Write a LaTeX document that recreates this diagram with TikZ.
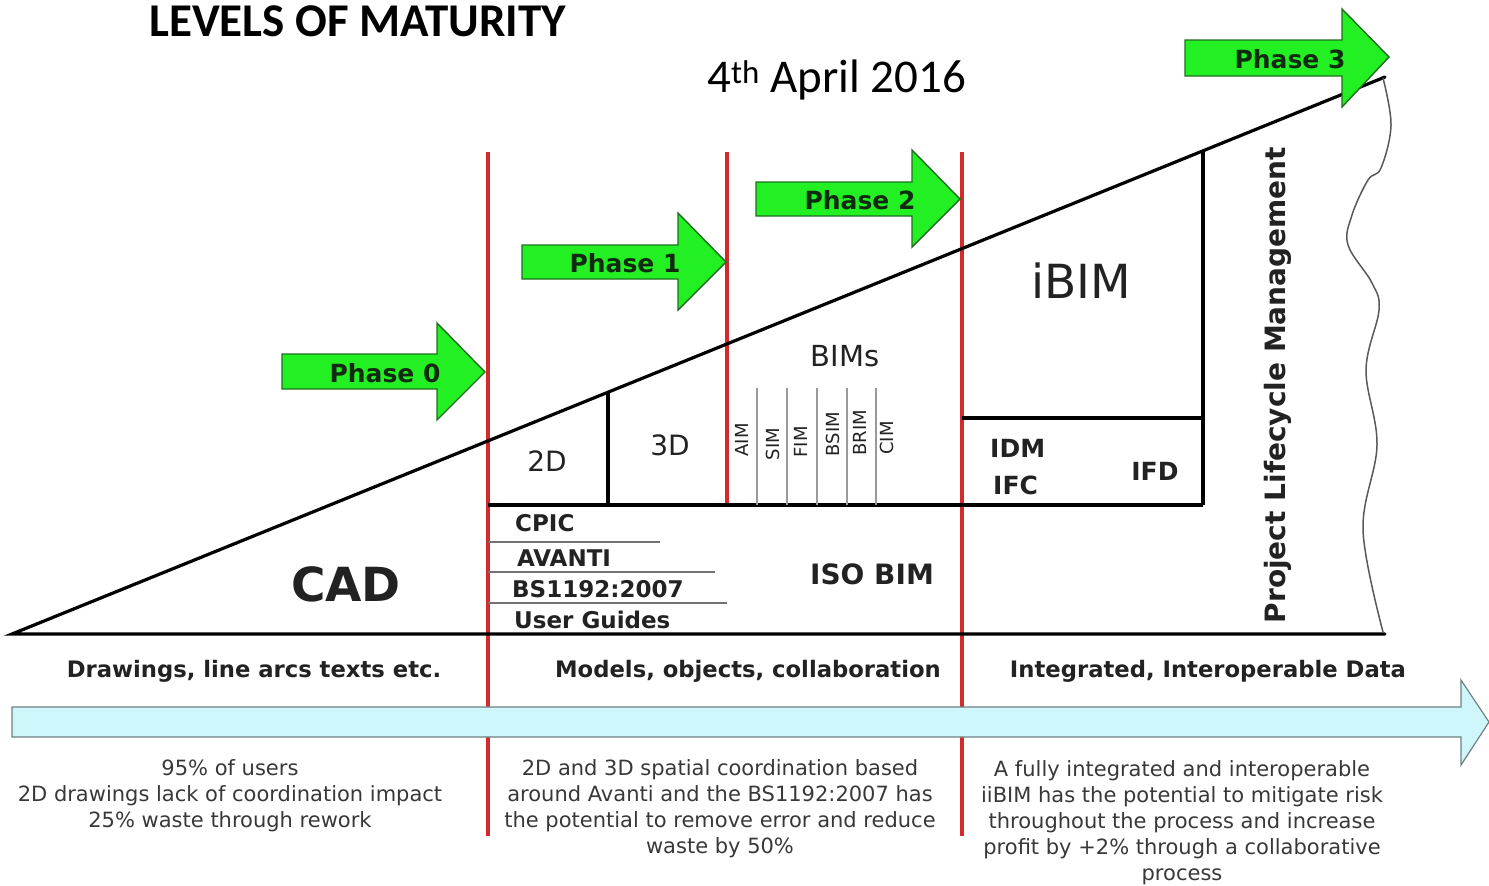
\documentclass[tikz,border=0pt]{standalone}
\usepackage{fontspec}
\setmainfont{DejaVu Sans}
\newfontfamily\calfont{Carlito}
\definecolor{redc}{HTML}{D42A2A}
\definecolor{phgreen}{HTML}{22F022}
\definecolor{phdark}{HTML}{1E6E1E}
\definecolor{phtext}{HTML}{0F2A0F}
\definecolor{barfill}{HTML}{CFF6FB}
\definecolor{bardraw}{HTML}{6F8080}
\definecolor{txt}{HTML}{222222}
\begin{document}
\begin{tikzpicture}[x=1pt,y=-1pt,
  redl/.style={draw=redc, line width=3.2pt},
  blk/.style={draw=black, line width=3.2pt},
  thinl/.style={draw=gray!80, line width=1.4pt},
  gline/.style={draw=gray!90!black, line width=1.3pt},
  parrow/.style={fill=phgreen, draw=phdark, line width=1.4pt, line join=miter},
  ptext/.style={font=\fontsize{25}{25}\selectfont\bfseries, text=phtext, inner sep=0pt},
  bold/.style={font=\bfseries\fontsize{#1}{#1}\selectfont, text=txt, inner sep=0pt},
  reg/.style={font=\fontsize{#1}{#1}\selectfont, text=txt, inner sep=0pt},
  desc/.style={font=\fontsize{21}{26}\selectfont, text=txt!90, align=center, inner sep=0pt, anchor=north}]
\useasboundingbox (0,0) rectangle (1489,886);

% red phase dividers
\coordinate (r0t) at (488,152); \coordinate (r0b) at (488,836);
\coordinate (r1t) at (727,152); \coordinate (r1b) at (727,505);
\coordinate (r2t) at (962,152); \coordinate (r2b) at (962,836);
\draw[redl] (r0t) -- (r0b);
\draw[redl] (r1t) -- (r1b);
\draw[redl] (r2t) -- (r2b);

% main triangle
\coordinate (apex) at (12,634);
\coordinate (top) at (1385,77);
\coordinate (base) at (1385,634);
\draw[blk, line cap=round] (top) -- (apex) -- (base);

% wavy right edge
\draw[draw=gray!70!black, line width=1.5pt] plot[smooth, tension=0.6] coordinates {(1383,78) (1391,125) (1381,168) (1368,180) (1352,215) (1348,245) (1372,283) (1379,310) (1366,370) (1377,445) (1363,530) (1383,632)};

% inner structure
\coordinate (h1) at (488,505); \coordinate (h2) at (1203,505);
\draw[blk] (h1) -- (h2);
\coordinate (v2d) at (608,393); \coordinate (v2db) at (608,505);
\draw[blk] (v2d) -- (v2db);
\coordinate (ib1) at (1203,152); \coordinate (ib2) at (1203,505);
\draw[blk] (ib1) -- (ib2);
\coordinate (id1) at (962,418); \coordinate (id2) at (1203,418);
\draw[blk] (id1) -- (id2);

% BIMs thin lines
\foreach \x in {757,787,817,847,876} {\draw[thinl] (\x,388) -- (\x,505);}

% CPIC underlines
\coordinate (u1a) at (488,542); \coordinate (u1b) at (660,542);
\coordinate (u2a) at (488,572); \coordinate (u2b) at (715,572);
\coordinate (u3a) at (488,603); \coordinate (u3b) at (727,603);
\draw[gline] (u1a) -- (u1b);
\draw[gline] (u2a) -- (u2b);
\draw[gline] (u3a) -- (u3b);

% phase arrows
\draw[parrow] (282,354) -- (437,354) -- (437,323) -- (485,372) -- (437,420) -- (437,389) -- (282,389) -- cycle;
\draw[parrow] (522,245) -- (678,245) -- (678,213) -- (726,262) -- (678,310) -- (678,279) -- (522,279) -- cycle;
\draw[parrow] (756,182) -- (912,182) -- (912,150) -- (960,199) -- (912,247) -- (912,216) -- (756,216) -- cycle;
\draw[parrow] (1185,40) -- (1342,40) -- (1342,9) -- (1389,57) -- (1342,107) -- (1342,76) -- (1185,76) -- cycle;
\node[ptext] (p0) at (385,373) {Phase 0};
\node[ptext] (p1) at (625,263) {Phase 1};
\node[ptext] (p2) at (860,200) {Phase 2};
\node[ptext] (p3) at (1290,59) {Phase 3};

% titles
\node[font=\calfont\bfseries\fontsize{47}{47}\selectfont, anchor=west, inner sep=0pt] (title) at (149,21) {LEVELS OF MATURITY};
\node[font=\calfont\fontsize{47}{47}\selectfont, anchor=west, inner sep=0pt] (date) at (707,80) {4\textsuperscript{th} April 2016};

% region labels
\node[bold=47] (cad) at (346,584) {CAD};
\node[reg=28] (t2d) at (547,461) {2D};
\node[reg=28] (t3d) at (670,445) {3D};
\node[reg=29] (bims) at (845,356) {BIMs};
\node[reg=47] (ibim) at (1081,281) {iBIM};
\node[bold=25, anchor=west] (idm) at (990,448) {IDM};
\node[bold=25, anchor=west] (ifc) at (993,485) {IFC};
\node[bold=25] (ifd) at (1155,471) {IFD};
\node[bold=28] (iso) at (872,574) {ISO BIM};

% BIM sub labels
\foreach \x/\y/\t in {742/440/AIM,773/444/SIM,801/442/FIM,833/434/BSIM,860/433/BRIM,887/438/CIM}
  {\node[reg=18, rotate=90] at (\x,\y) {\t};}

% CPIC stack
\node[bold=23, anchor=west] (cpic) at (515,523) {CPIC};
\node[bold=23, anchor=west] (avanti) at (517,558) {AVANTI};
\node[bold=23, anchor=west] (bs) at (512,589) {BS1192:2007};
\node[bold=23, anchor=west] (ug) at (514,620) {User Guides};

% PLM
\node[bold=28, rotate=90] (plm) at (1278,385) {Project Lifecycle Management};

% column headers
\node[bold=22.7] (hd1) at (254,671) {Drawings, line arcs texts etc.};
\node[bold=22.7] (hd2) at (748,671) {Models, objects, collaboration};
\node[bold=22.7] (hd3) at (1208,671) {Integrated, Interoperable Data};

% timeline bar
\draw[fill=barfill, draw=bardraw, line width=1.2pt] (12,707) -- (1461,707) -- (1461,680) -- (1489,722) -- (1461,765) -- (1461,737) -- (12,737) -- cycle;

% descriptions
\node[desc] (d1) at (230,759) {95\% of users\\2D drawings lack of coordination impact\\25\% waste through rework};
\node[desc] (d2) at (720,759) {2D and 3D spatial coordination based\\around Avanti and the BS1192:2007 has\\the potential to remove error and reduce\\waste by 50\%};
\node[desc] (d3) at (1182,760) {A fully integrated and interoperable\\iiBIM has the potential to mitigate risk\\throughout the process and increase\\profit by +2\% through a collaborative\\process};
\end{tikzpicture}
\end{document}
